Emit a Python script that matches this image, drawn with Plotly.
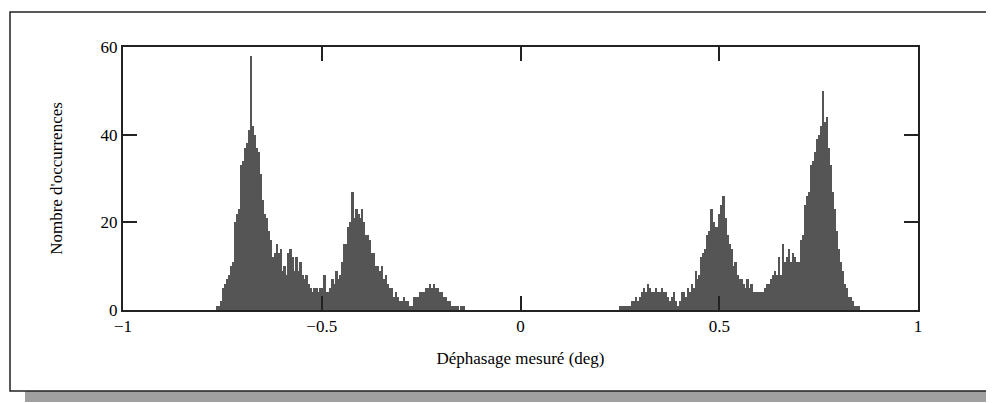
import plotly.graph_objects as go

# Histogram data: counts per bin (bin width 0.005 deg)
bin_width = 0.005
left_start = -0.765   # left edge of the first bin of the negative cluster
left_counts = [1, 1, 2, 5, 6, 7, 8, 10, 11, 20, 22, 23, 33, 34, 37, 38, 41, 58, 42, 40,
               37, 36, 31, 25, 22, 21, 18, 16, 12, 13, 15, 13, 14, 9, 10, 8, 13, 14, 12, 9,
               12, 9, 11, 8, 7, 8, 6, 5, 4, 5, 5, 4, 5, 5, 8, 4, 4, 5, 7, 6,
               9, 7, 8, 11, 15, 15, 19, 20, 27, 21, 23, 22, 21, 23, 20, 17, 17, 16, 13, 13,
               10, 10, 9, 10, 7, 8, 6, 5, 5, 3, 4, 3, 2, 2, 3, 2, 2, 1, 1, 3,
               3, 3, 4, 4, 4, 5, 5, 6, 5, 6, 5, 5, 4, 4, 3, 3, 2, 2, 1, 1,
               1, 1, 0, 1, 1]
right_start = 0.249   # left edge of the first bin of the positive cluster
right_counts = [1, 1, 1, 1, 1, 1, 2, 2, 3, 2, 3, 4, 5, 4, 6, 5, 4, 4, 5, 4,
                4, 5, 4, 4, 3, 2, 3, 4, 2, 1, 2, 4, 4, 3, 5, 4, 6, 5, 9, 7,
                8, 12, 13, 14, 17, 18, 23, 20, 19, 19, 22, 24, 26, 21, 17, 15, 14, 10, 11, 8,
                7, 7, 6, 5, 7, 5, 6, 4, 4, 4, 4, 4, 4, 5, 6, 6, 7, 8, 9, 8,
                12, 8, 15, 11, 12, 14, 11, 13, 12, 11, 11, 16, 17, 24, 26, 27, 33, 34, 36, 39,
                40, 42, 50, 43, 44, 37, 33, 27, 23, 18, 14, 11, 9, 6, 5, 3, 3, 2, 1, 1,
                1]

x_tick_vals = [-1, -0.5, 0, 0.5, 1]
x_tick_text = ["\u22121", "\u22120.5", "0", "0.5", "1"]
y_tick_vals = [0, 20, 40, 60]
y_tick_text = ["0", "20", "40", "60"]

x_title = "Déphasage mesuré (deg)"
y_title = "Nombre d'occurrences"

centers = [left_start + bin_width * (i + 0.5) for i in range(len(left_counts))] + \
          [right_start + bin_width * (i + 0.5) for i in range(len(right_counts))]
counts = left_counts + right_counts

fig = go.Figure()
fig.add_trace(go.Bar(
    x=centers, y=counts, width=bin_width,
    marker=dict(color="#555555", line=dict(width=0)),
    showlegend=False,
))

font_family = "Liberation Serif, Times New Roman, serif"

# The page body adds an 8px margin; work in page pixels and shift.
OFF = 8
W, H = 994 - OFF, 403 - OFF
L, R, T, B = 123 - OFF, 918 - OFF, 47 - OFF, 310 - OFF

def px(x):
    return (x - OFF - L) / (R - L)

def py(y):
    return (B - (y - OFF)) / (B - T)

shapes = [
    # drop shadow of the outer frame
    dict(type="rect", xref="paper", yref="paper", layer="below",
         x0=px(25), x1=px(995), y0=py(402), y1=py(20),
         fillcolor="#a0a0a0", line=dict(width=0)),
    # outer frame
    dict(type="rect", xref="paper", yref="paper", layer="below",
         x0=px(10), x1=px(989), y0=py(391), y1=py(12),
         fillcolor="white", line=dict(color="#222222", width=1.5)),
]

axis_common = dict(
    ticks="inside", ticklen=14, tickwidth=1.5, tickcolor="#222222",
    showline=True, linecolor="#222222", linewidth=2, mirror="allticks",
    showgrid=False, zeroline=False,
    tickfont=dict(size=17, family=font_family, color="black"),
)

fig.update_layout(
    width=W, height=H,
    margin=dict(l=L, r=W - R, t=T, b=H - B, autoexpand=False),
    paper_bgcolor="white", plot_bgcolor="white",
    bargap=0,
    shapes=shapes,
    font=dict(family=font_family, size=17, color="black"),
    xaxis=dict(
        range=[-1, 1], tickvals=x_tick_vals, ticktext=x_tick_text,
        title=dict(text=x_title, font=dict(size=17, family=font_family), standoff=17),
        **axis_common,
    ),
    yaxis=dict(
        range=[0, 60], tickvals=y_tick_vals, ticktext=y_tick_text,
        title=dict(text=y_title, font=dict(size=17, family=font_family), standoff=34),
        **axis_common,
    ),
)

fig.write_html("out.html")
